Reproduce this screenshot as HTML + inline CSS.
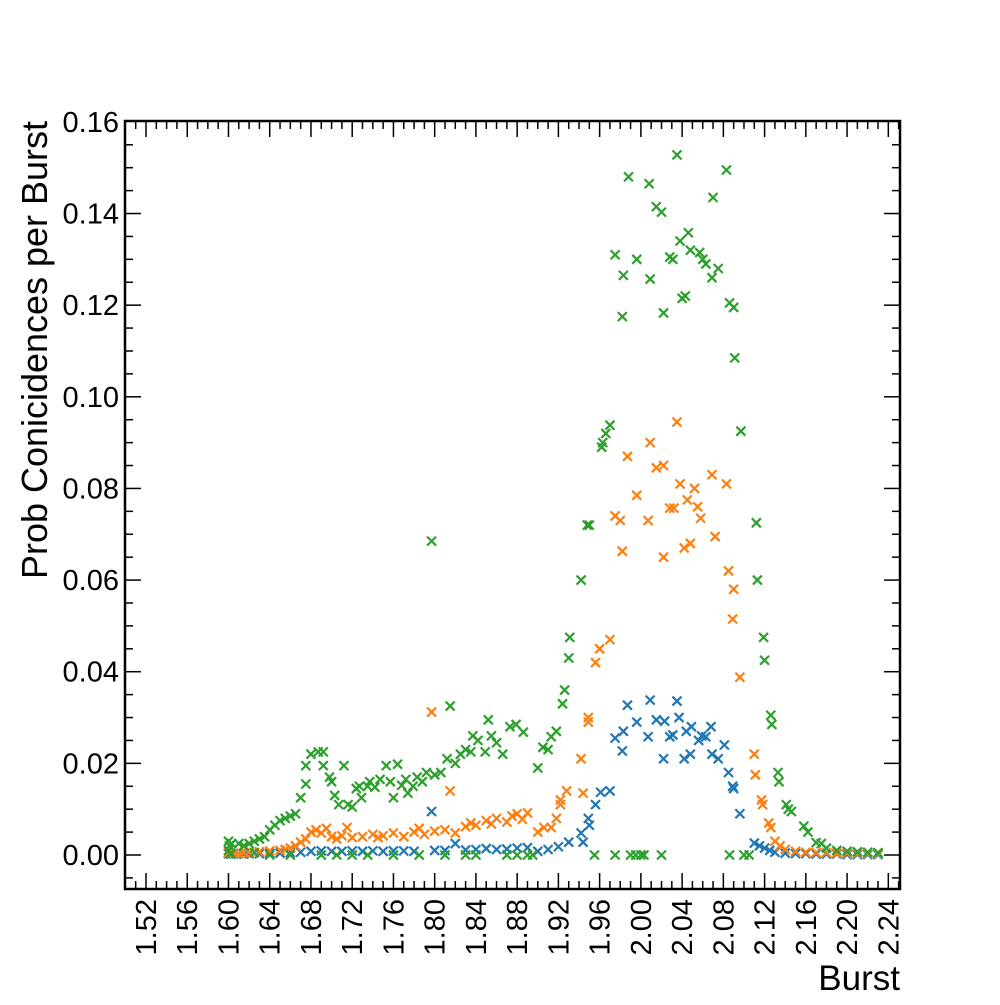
<!DOCTYPE html>
<html><head><meta charset="utf-8">
<style>
body{margin:0;background:#fff;}
svg text{font-family:"Liberation Sans",sans-serif;fill:#000;}
</style></head>
<body>
<svg id="chart" width="1000" height="1000" xmlns="http://www.w3.org/2000/svg">
<rect x="0" y="0" width="1000" height="1000" fill="#fff"/>
<g id="ticks"></g>
<g id="marks"></g>
<rect x="125" y="121" width="775" height="768" fill="none" stroke="#000" stroke-width="2.5"/>
<text x="900" y="990" font-size="35" text-anchor="end">Burst</text>
<text transform="translate(47,121) rotate(-90)" font-size="36" text-anchor="end" textLength="458" lengthAdjust="spacingAndGlyphs">Prob Conicidences per Burst</text>
</svg>
<script>
const blueX=[1.600,1.602,1.605,1.61,1.615,1.62,1.63,1.64,1.65,1.66,1.67,1.68,1.69,1.70,1.71,1.72,1.73,1.74,1.75,1.76,1.77,1.78,1.797,1.80,1.81,1.82,1.83,1.84,1.85,1.86,1.87,1.88,1.89,1.90,1.91,1.92,1.93,1.942,1.944,1.949,1.95,1.956,1.961,1.970,1.975,1.982,1.983,1.987,1.996,2.007,2.009,2.015,2.022,2.023,2.028,2.031,2.035,2.037,2.042,2.044,2.048,2.049,2.056,2.059,2.063,2.068,2.069,2.075,2.081,2.085,2.089,2.090,2.096,2.110,2.115,2.12,2.125,2.13,2.14,2.15,2.16,2.17,2.18,2.19,2.20,2.21,2.22,2.23];
const blueY=[0.0003,0.0002,0.0002,0.0003,0.0002,0.0003,0.0003,0.0004,0.0004,0.0005,0.0006,0.0008,0.0009,0.0008,0.0008,0.0009,0.0008,0.0009,0.0008,0.0009,0.0009,0.0008,0.0095,0.0010,0.0010,0.0025,0.0011,0.0012,0.0014,0.0012,0.0013,0.0015,0.0016,0.0008,0.0012,0.0018,0.0028,0.0048,0.0028,0.0080,0.0065,0.0110,0.0137,0.0140,0.0255,0.0227,0.0270,0.0327,0.0290,0.0258,0.0338,0.0295,0.0210,0.0292,0.0258,0.0262,0.0336,0.0300,0.0210,0.0270,0.0220,0.0280,0.0250,0.0260,0.0258,0.0280,0.0220,0.0210,0.0240,0.0180,0.0150,0.0145,0.0090,0.0026,0.0020,0.0015,0.0010,0.0006,0.0004,0.0003,0.0003,0.0002,0.0002,0.0002,0.0001,0.0001,0.0001,0.0001];
const orangeX=[1.600,1.605,1.61,1.615,1.62,1.63,1.64,1.65,1.655,1.66,1.665,1.67,1.675,1.68,1.685,1.69,1.695,1.70,1.705,1.71,1.715,1.72,1.73,1.74,1.745,1.75,1.76,1.77,1.78,1.785,1.79,1.797,1.80,1.81,1.815,1.82,1.83,1.835,1.84,1.85,1.855,1.86,1.87,1.875,1.88,1.885,1.89,1.900,1.906,1.913,1.918,1.922,1.922,1.928,1.942,1.944,1.949,1.949,1.956,1.960,1.970,1.975,1.980,1.982,1.987,1.996,2.007,2.009,2.015,2.022,2.022,2.028,2.032,2.035,2.038,2.042,2.045,2.048,2.052,2.055,2.058,2.069,2.072,2.083,2.085,2.090,2.089,2.096,2.110,2.111,2.117,2.118,2.124,2.126,2.13,2.135,2.14,2.15,2.16,2.17,2.18,2.19,2.20,2.21,2.22,2.23];
const orangeY=[0.0005,0.0004,0.0003,0.0005,0.0006,0.0007,0.0009,0.0010,0.0012,0.0015,0.0020,0.0028,0.0035,0.0050,0.0055,0.0048,0.0058,0.0040,0.0035,0.0042,0.0060,0.0038,0.0040,0.0045,0.0038,0.0042,0.0048,0.0040,0.0050,0.0058,0.0045,0.0312,0.0052,0.0055,0.0140,0.0048,0.0062,0.0070,0.0065,0.0075,0.0068,0.0080,0.0072,0.0085,0.0090,0.0078,0.0092,0.0050,0.0060,0.0060,0.0080,0.0120,0.0110,0.0140,0.0210,0.0135,0.0300,0.0290,0.0420,0.0450,0.0470,0.0740,0.0730,0.0663,0.0870,0.0785,0.0730,0.0900,0.0845,0.0850,0.0650,0.0757,0.0757,0.0945,0.0810,0.0670,0.0775,0.0680,0.0800,0.0760,0.0735,0.0830,0.0695,0.0810,0.0620,0.0580,0.0515,0.0388,0.0220,0.0175,0.0120,0.0110,0.0070,0.0060,0.0030,0.0020,0.0012,0.0008,0.0006,0.0005,0.0005,0.0004,0.0004,0.0003,0.0003,0.0003];
const greenX=[1.600,1.600,1.601,1.603,1.61,1.615,1.62,1.625,1.63,1.635,1.64,1.645,1.65,1.655,1.66,1.665,1.670,1.675,1.675,1.680,1.687,1.692,1.692,1.698,1.700,1.703,1.707,1.712,1.716,1.720,1.724,1.727,1.729,1.735,1.737,1.742,1.747,1.753,1.757,1.760,1.764,1.768,1.772,1.774,1.779,1.783,1.788,1.792,1.797,1.800,1.806,1.812,1.815,1.820,1.825,1.830,1.835,1.837,1.842,1.849,1.852,1.855,1.860,1.866,1.873,1.879,1.886,1.900,1.905,1.910,1.913,1.918,1.924,1.926,1.930,1.931,1.942,1.948,1.950,1.962,1.963,1.966,1.970,1.975,1.982,1.983,1.988,1.996,2.008,2.009,2.015,2.020,2.022,2.028,2.031,2.035,2.038,2.040,2.043,2.046,2.048,2.057,2.060,2.063,2.069,2.070,2.075,2.083,2.086,2.090,2.091,2.097,2.112,2.113,2.119,2.120,2.126,2.127,2.133,2.134,2.141,2.143,2.146,2.158,2.162,2.170,2.175,2.180,2.190,2.200,2.210,2.220,2.230,1.602,1.625,1.640,1.660,1.690,1.705,1.720,1.735,1.760,1.785,1.810,1.830,1.840,1.870,1.880,1.890,1.895,1.955,1.975,1.990,1.995,2.000,2.003,2.020,2.086,2.100,2.105];
const greenY=[0.0030,0.0010,0.0020,0.0025,0.0025,0.0020,0.0025,0.0030,0.0035,0.0040,0.0055,0.0065,0.0075,0.0080,0.0085,0.0090,0.0125,0.0155,0.0195,0.0220,0.0225,0.0225,0.0195,0.0170,0.0160,0.0130,0.0110,0.0195,0.0110,0.0105,0.0145,0.0150,0.0125,0.0150,0.0160,0.0148,0.0165,0.0195,0.0160,0.0125,0.0198,0.0152,0.0165,0.0135,0.0150,0.0170,0.0160,0.0180,0.0685,0.0175,0.0180,0.0210,0.0325,0.0200,0.0220,0.0230,0.0225,0.0260,0.0250,0.0225,0.0295,0.0260,0.0245,0.0220,0.0280,0.0285,0.0268,0.0190,0.0235,0.0230,0.0258,0.0270,0.0330,0.0360,0.0430,0.0475,0.0600,0.0720,0.0720,0.0890,0.0900,0.0920,0.0938,0.1310,0.1175,0.1265,0.1480,0.1300,0.1465,0.1257,0.1415,0.1403,0.1183,0.1305,0.1300,0.1528,0.1340,0.1215,0.1220,0.1358,0.1320,0.1315,0.1300,0.1290,0.1260,0.1435,0.1280,0.1495,0.1205,0.1195,0.1085,0.0925,0.0725,0.0600,0.0475,0.0425,0.0305,0.0285,0.0180,0.0160,0.0110,0.0100,0.0095,0.0063,0.0050,0.0027,0.0025,0.0015,0.0010,0.0008,0.0007,0.0006,0.0005,0.0002,0.0005,0,0,0,0,0,0,0,0,0,0,0,0,0,0,0,0,0,0,0,0,0,0,0,0,0,0];
const xTickLabels=["1.52","1.56","1.60","1.64","1.68","1.72","1.76","1.80","1.84","1.88","1.92","1.96","2.00","2.04","2.08","2.12","2.16","2.20","2.24"];
const yTickLabels=["0.00","0.02","0.04","0.06","0.08","0.10","0.12","0.14","0.16"];

const NS="http://www.w3.org/2000/svg";
function xs(v){return 146+(v-1.52)*1031;}
function ys(v){return 855-v*4582;}
const L=125,R=900,T=121,B=889;
const tg=document.getElementById('ticks');
function line(g,x1,y1,x2,y2,w){const l=document.createElementNS(NS,'line');l.setAttribute('x1',x1);l.setAttribute('y1',y1);l.setAttribute('x2',x2);l.setAttribute('y2',y2);l.setAttribute('stroke','#000');l.setAttribute('stroke-width',w);g.appendChild(l);return l;}
for(let i=-2;i<=75;i++){const v=1.52+i*0.01;const px=xs(v);if(px<L+1||px>R-1)continue;const major=(i%4===0);const len=major?16:8;
 const a=line(tg,px,B,px,B-len,1.5);
 const b=line(tg,px,T,px,T+len,1.5);}
xTickLabels.forEach(s=>{const px=xs(parseFloat(s));const t=document.createElementNS(NS,'text');
 t.setAttribute('transform','translate('+(px+10)+','+(B+10)+') rotate(-90)');t.setAttribute('text-anchor','end');t.setAttribute('font-size','29');t.textContent=s;
 
 
 tg.appendChild(t);});
for(let i=-1;i<=32;i++){const v=i*0.005;const py=ys(v);if(py<T+1||py>B-1)continue;const major=(i%4===0);const len=major?16:8;
 const a=line(tg,L,py,L+len,py,1.5);
 const b=line(tg,R,py,R-len,py,1.5);}
yTickLabels.forEach(s=>{const py=ys(parseFloat(s));const t=document.createElementNS(NS,'text');
 t.setAttribute('x',L-6);t.setAttribute('y',py+10);t.setAttribute('text-anchor','end');t.setAttribute('font-size','29');t.textContent=s;
 
 
 tg.appendChild(t);});
const mg=document.getElementById('marks');
function series(X,Y,color,name){const g=document.createElementNS(NS,'g');
 
 
 for(let i=0;i<X.length;i++){const cx=xs(X[i]),cy=ys(Y[i]),r=4.5;const p=document.createElementNS(NS,'path');
  p.setAttribute('d','M'+(cx-r)+' '+(cy-r)+'L'+(cx+r)+' '+(cy+r)+'M'+(cx-r)+' '+(cy+r)+'L'+(cx+r)+' '+(cy-r));
  p.setAttribute('stroke',color);p.setAttribute('stroke-width','2.2');p.setAttribute('fill','none');
  
  
  g.appendChild(p);}
 mg.appendChild(g);}
series(blueX,blueY,'#1f77b4','series-blue');
series(orangeX,orangeY,'#ff7f0e','series-orange');
series(greenX,greenY,'#2ca02c','series-green');
</script>
</body></html>
